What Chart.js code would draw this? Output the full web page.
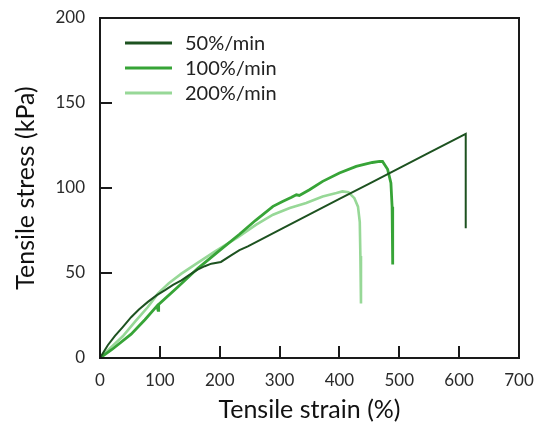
<!DOCTYPE html>
<html>
<head>
<meta charset="utf-8">
<script src="https://cdn.jsdelivr.net/npm/chart.js@4/dist/chart.umd.min.js"></script>
<style>
  html, body { margin: 0; padding: 0; background: #ffffff; }
  #wrap { width: 534px; height: 427px; }
</style>
</head>
<body>
<div id="wrap"><canvas id="c" width="534" height="427"></canvas></div>
<script>
// ---- data ----
const seriesLabels = ['50%/min', '100%/min', '200%/min'];

const strain50 = [0, 13, 25, 38, 52, 65, 80, 95, 108, 122, 136, 150, 163, 175, 186, 202, 219, 233, 247, 300, 350, 400, 450, 500, 550, 611, 611];
const stress50 = [0, 7.5, 13, 18.2, 24, 28.5, 33, 37, 39.8, 43, 45.7, 49, 52, 54, 55.5, 56.5, 60.4, 63.5, 65.7, 75.4, 84.5, 93.6, 102.6, 111.7, 120.8, 131.9, 76.3];

const strain100 = [0, 20, 52, 75, 95, 97, 98, 130, 163, 200, 233, 260, 289, 305, 320, 328, 333, 350, 372, 400, 428, 455, 467, 472, 480.5, 486, 488, 489, 489];
const stress100 = [0, 5, 14, 22.5, 30.5, 28, 31.5, 41.8, 52.6, 63.3, 72.8, 81, 89.2, 92.1, 94.5, 96, 95.6, 99, 103.9, 108.8, 112.7, 115, 115.6, 115.6, 111, 103, 89, 77, 55];

const strain200 = [0, 13, 38, 60, 80, 97, 115, 136, 163, 191, 230, 261, 289, 317, 344.5, 372, 395, 405, 415, 425, 431, 434, 435, 436];
const stress200 = [0, 4.5, 12.8, 22, 30, 38, 44, 49.6, 56, 62.4, 71, 78.4, 84.3, 88.2, 91.2, 95, 97, 98, 97.5, 94, 89, 80, 60, 32];

const xTickValues = [0, 100, 200, 300, 400, 500, 600, 700];
const yTickValues = [0, 50, 100, 150, 200];
const xTitle = 'Tensile strain (%)';
const yTitle = 'Tensile stress (kPa)';

// ---- styles ----
const colors = ['#1d5220', '#37a437', '#97d897'];
const widths = [2, 2.8, 2.6];
const FONT = 'Lato, "Noto Sans", sans-serif';
const AXIS = '#1a1a1a';

function pts(xs, ys) { return xs.map((x, i) => ({ x: x, y: ys[i] })); }

const datasets = [
  { label: seriesLabels[0], data: pts(strain50, stress50) },
  { label: seriesLabels[1], data: pts(strain100, stress100) },
  { label: seriesLabels[2], data: pts(strain200, stress200) }
].map((d, i) => Object.assign(d, {
  borderColor: colors[i],
  backgroundColor: colors[i],
  borderWidth: widths[i],
  showLine: true,
  pointRadius: 0,
  tension: 0,
  fill: false,
  order: i
}));

// legend drawn inside the plot area
const insideLegend = {
  id: 'insideLegend',
  afterDatasetsDraw(chart) {
    const ctx = chart.ctx;
    const x0 = 125, x1 = 172, tx = 185;
    const rows = [43, 68, 93];
    ctx.save();
    chart.data.datasets.forEach((ds, i) => {
      ctx.strokeStyle = ds.borderColor;
      ctx.lineWidth = 3;
      ctx.beginPath();
      ctx.moveTo(x0, rows[i]);
      ctx.lineTo(x1, rows[i]);
      ctx.stroke();
      ctx.fillStyle = '#222';
      ctx.font = '20px ' + FONT;
      ctx.textBaseline = 'middle';
      ctx.textAlign = 'left';
      ctx.fillText(ds.label, tx, rows[i] + 1);
    });
    ctx.restore();
  }
};

// box frame + inward tick marks
const frame = {
  id: 'frame',
  afterDraw(chart) {
    const a = chart.chartArea, ctx = chart.ctx;
    const sx = chart.scales.x, sy = chart.scales.y;
    ctx.save();
    ctx.strokeStyle = AXIS;
    ctx.lineWidth = 2;
    ctx.strokeRect(a.left, a.top, a.right - a.left, a.bottom - a.top);
    ctx.beginPath();
    sx.ticks.forEach(t => {
      const px = Math.round(sx.getPixelForValue(t.value));
      if (px <= a.left + 1 || px >= a.right - 1) return;
      ctx.moveTo(px, a.bottom);
      ctx.lineTo(px, a.bottom - 12);
    });
    sy.ticks.forEach(t => {
      const py = Math.round(sy.getPixelForValue(t.value));
      if (py <= a.top + 1 || py >= a.bottom - 1) return;
      ctx.moveTo(a.left, py);
      ctx.lineTo(a.left + 12, py);
    });
    ctx.stroke();
    ctx.restore();
  }
};

function zeroPad(scale) {
  scale.paddingLeft = 0; scale.paddingRight = 0; scale.paddingTop = 0; scale.paddingBottom = 0;
}

new Chart(document.getElementById('c'), {
  type: 'scatter',
  data: { datasets: datasets },
  options: {
    responsive: false,
    animation: false,
    devicePixelRatio: 1,
    layout: { padding: { left: 0, right: 15, top: 18, bottom: 0 } },
    plugins: { legend: { display: false }, tooltip: { enabled: false } },
    scales: {
      x: {
        type: 'linear',
        min: 0, max: 700,
        afterBuildTicks(scale) { scale.ticks = xTickValues.map(v => ({ value: v })); },
        afterFit(scale) { scale.height = 69; zeroPad(scale); },
        border: { display: false },
        grid: { display: false, drawOnChartArea: false, drawTicks: false },
        ticks: { padding: 12, color: '#2a2a2a', font: { family: FONT, size: 17 }, maxRotation: 0 },
        title: { display: true, text: xTitle, color: '#111', font: { family: FONT, size: 25 }, padding: { top: 0, bottom: 2 } }
      },
      y: {
        type: 'linear',
        min: 0, max: 200,
        afterBuildTicks(scale) { scale.ticks = yTickValues.map(v => ({ value: v })); },
        afterFit(scale) { scale.width = 100; zeroPad(scale); },
        border: { display: false },
        grid: { display: false, drawOnChartArea: false, drawTicks: false },
        ticks: { padding: 15, color: '#2a2a2a', font: { family: FONT, size: 17 } },
        title: { display: true, text: yTitle, color: '#111', font: { family: FONT, size: 25 }, padding: { top: 11, bottom: 0 } }
      }
    }
  },
  plugins: [insideLegend, frame]
});
</script>
</body>
</html>
